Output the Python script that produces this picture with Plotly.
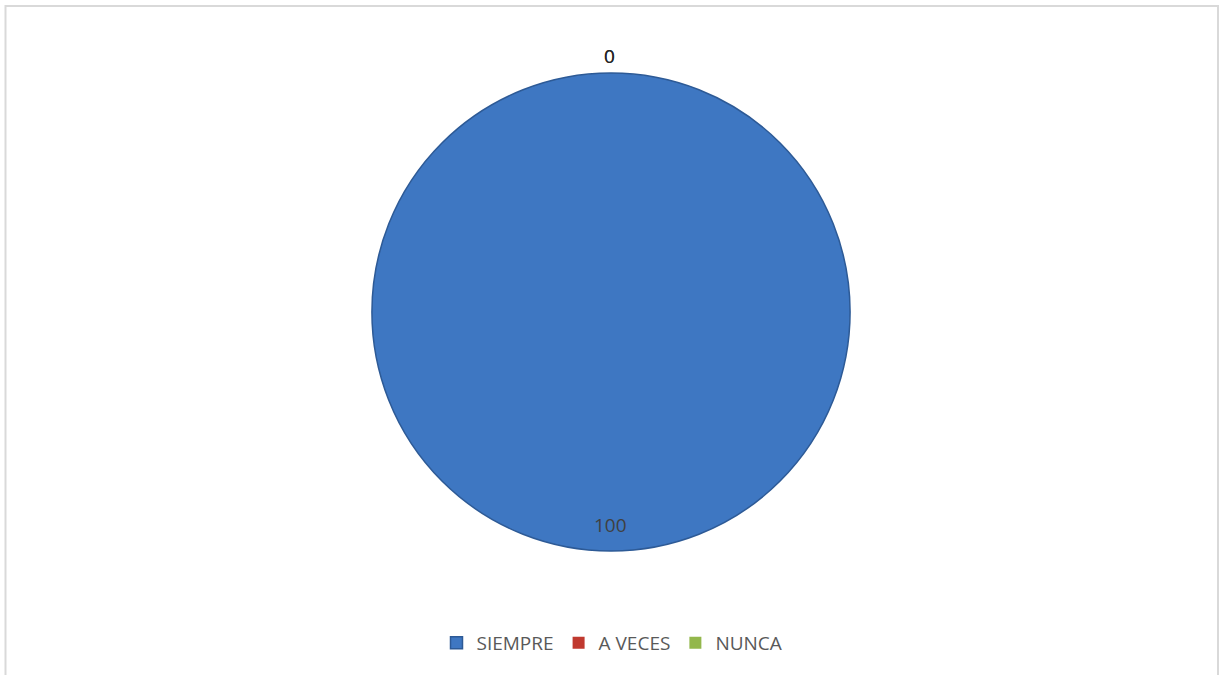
import plotly.graph_objects as go

categories = ["SIEMPRE", "A VECES", "NUNCA"]
values = [100, 0, 0]
colors = ["#3e77c2", "#c0392f", "#93b74c"]

W, H = 1224, 675
fig = go.Figure()
fig.add_trace(go.Pie(
    labels=categories,
    values=values,
    sort=False,
    direction="clockwise",
    rotation=0,
    marker=dict(colors=colors, line=dict(color="#2d5a96", width=[1.5, 0, 0])),
    textinfo="none",
    domain=dict(x=[371 / W, 851 / W], y=[1 - 551 / H, 1 - 73 / H]),
    hoverinfo="label+value",
    showlegend=True,
))

# data labels (Excel style): the full slice labelled near its bottom, zero slices at top
for cat, v in zip(categories, values):
    if v > 0:
        fig.add_annotation(text=str(v), x=610 / W, y=1 - 525 / H, xref="paper", yref="paper",
                           xanchor="center", yanchor="middle",
                           showarrow=False, font=dict(family="Open Sans", size=19, color="#404040"))
    else:
        fig.add_annotation(text=str(v), x=609 / W, y=1 - 56 / H, xref="paper", yref="paper",
                           xanchor="center", yanchor="middle",
                           showarrow=False, font=dict(family="Open Sans", size=19, color="#262626"))

fig.add_shape(type="rect", xref="paper", yref="paper",
              x0=5.5 / W, x1=1218 / W, y0=-0.05, y1=1 - 6 / H,
              line=dict(color="#d9d9d9", width=2), fillcolor="rgba(0,0,0,0)", layer="below")

fig.update_layout(
    width=W, height=H,
    margin=dict(l=0, r=0, t=0, b=0),
    paper_bgcolor="white",
    plot_bgcolor="white",
    font=dict(family="Open Sans", color="#595959"),
    legend=dict(orientation="h", x=0.5, xanchor="center", y=1 - 643 / H, yanchor="middle",
                font=dict(family="Open Sans", size=19, color="#595959"),
                itemwidth=30, traceorder="normal"),
)

fig.write_html("out.html", config={"displayModeBar": False},
               post_script="document.body.style.margin='0';document.body.style.overflow='hidden';")
